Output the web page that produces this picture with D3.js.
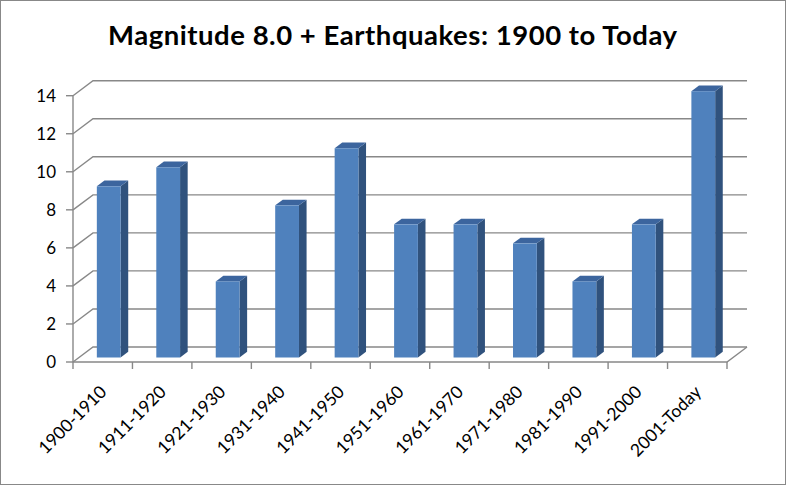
<!DOCTYPE html>
<html>
<head>
<meta charset="utf-8">
<script src="https://cdn.jsdelivr.net/npm/d3@7"></script>
<style>
  body { margin: 0; background: #fff; }
  text { font-family: Lato, "Liberation Sans", sans-serif; fill: #000; }
</style>
</head>
<body>
<div id="main"></div>
<script>
/// data ///
const decades = ['1900-1910', '1911-1920', '1921-1930', '1931-1940', '1941-1950', '1951-1960',
                 '1961-1970', '1971-1980', '1981-1990', '1991-2000', '2001-Today'];
const quakeCounts = [9, 10, 4, 8, 11, 7, 7, 6, 4, 7, 14];
const yTicks = [0, 2, 4, 6, 8, 10, 12, 14];
const chartTitle = 'Magnitude 8.0 + Earthquakes: 1900 to Today';

/// chart ///
const w = 786;
const h = 485;

// 3d look: back wall offset and bar depth
const depthX = 20, depthY = -15;
const barZ = 0.3;           // front face of bars, fraction of depth
const barDepth = 0.38;

let svg = d3.select('#main')
    .append('svg')
    .attr('width', w)
    .attr('height', h);

// outer frame
svg.append('rect')
    .attr('x', 0.5).attr('y', 0.5)
    .attr('width', w - 1).attr('height', h - 1)
    .attr('fill', '#fff')
    .attr('stroke', '#888');

svg.append('text')
    .attr('x', 392.5)
    .attr('y', 44.5)
    .attr('text-anchor', 'middle')
    .attr('textLength', 569)
    .attr('lengthAdjust', 'spacing')
    .style('font-size', '27.5px')
    .style('font-weight', 'bold')
    .text(chartTitle);

let xScale = d3.scaleBand()
    .domain(decades)
    .range([73, 727]);

let barScale = d3.scaleBand()
    .domain(decades)
    .range([73, 727])
    .paddingInner(0.6)
    .paddingOuter(0.3);

let yScale = d3.scaleLinear()
    .domain([0, 14])
    .range([362, 95.7]);

const grey = '#888';

// gridlines on the back wall with the diagonal on the side wall
let grid = svg.append('g')
    .attr('fill', 'none')
    .attr('stroke', grey)
    .attr('stroke-width', 1.4);

grid.selectAll('path')
    .data(yTicks)
    .enter()
    .append('path')
    .attr('d', d => {
        let y = yScale(d);
        return 'M' + xScale.range()[0] + ',' + y +
               'L' + (xScale.range()[0] + depthX) + ',' + (y + depthY) +
               'L' + (xScale.range()[1] + depthX) + ',' + (y + depthY);
    });

// floor front edge and right diagonal
grid.append('path')
    .attr('d', 'M' + xScale.range()[0] + ',' + yScale(0) +
               'L' + xScale.range()[1] + ',' + yScale(0) +
               'L' + (xScale.range()[1] + depthX) + ',' + (yScale(0) + depthY));

// y axis line + ticks
grid.append('path')
    .attr('d', 'M' + xScale.range()[0] + ',' + yScale(14) + 'L' + xScale.range()[0] + ',' + yScale(0));

grid.selectAll('.ytick')
    .data(yTicks)
    .enter()
    .append('path')
    .attr('d', d => 'M' + (xScale.range()[0] - 7) + ',' + yScale(d) + 'L' + xScale.range()[0] + ',' + yScale(d));

// x ticks at band edges
let edges = decades.map(d => xScale(d)).concat([xScale.range()[1]]);
grid.selectAll('.xtick')
    .data(edges)
    .enter()
    .append('path')
    .attr('d', d => 'M' + d + ',' + yScale(0) + 'L' + d + ',' + (yScale(0) + 7));

// y labels
svg.selectAll('.ylabel')
    .data(yTicks)
    .enter()
    .append('text')
    .attr('x', 56)
    .attr('y', d => yScale(d))
    .attr('dy', '0.36em')
    .attr('text-anchor', 'end')
    .style('font-size', '17px')
    .text(d => d);

// x labels, rotated
svg.selectAll('.xlabel')
    .data(decades)
    .enter()
    .append('text')
    .attr('text-anchor', 'end')
    .attr('transform', d => 'translate(' + (xScale(d) + xScale.bandwidth() / 2 + 5) + ',393) rotate(-45)')
    .style('font-size', '17.5px')
    .text(d => d);

// bars: front, side, top
const fx = barZ * depthX, fy = barZ * depthY;
const bx = barDepth * depthX, by = barDepth * depthY;

let bars = svg.selectAll('.bar')
    .data(decades.map((d, i) => [d, quakeCounts[i]]))
    .enter()
    .append('g');

bars.append('path')     // side
    .attr('fill', '#30527d')
    .attr('d', d => {
        let x1 = barScale(d[0]) + barScale.bandwidth() + fx;
        let y0 = yScale(0) + fy, y1 = yScale(d[1]) + fy;
        return 'M' + x1 + ',' + y0 + 'L' + (x1 + bx) + ',' + (y0 + by) +
               'L' + (x1 + bx) + ',' + (y1 + by) + 'L' + x1 + ',' + y1 + 'Z';
    });

bars.append('path')     // top
    .attr('fill', '#3c659e')
    .attr('d', d => {
        let x0 = barScale(d[0]) + fx, x1 = x0 + barScale.bandwidth();
        let y1 = yScale(d[1]) + fy;
        return 'M' + x0 + ',' + y1 + 'L' + (x0 + bx) + ',' + (y1 + by) +
               'L' + (x1 + bx) + ',' + (y1 + by) + 'L' + x1 + ',' + y1 + 'Z';
    });

bars.append('rect')     // front
    .attr('fill', '#4f81bd')
    .attr('x', d => barScale(d[0]) + fx)
    .attr('y', d => yScale(d[1]) + fy)
    .attr('width', barScale.bandwidth())
    .attr('height', d => yScale(0) - yScale(d[1]));
</script>
</body>
</html>
